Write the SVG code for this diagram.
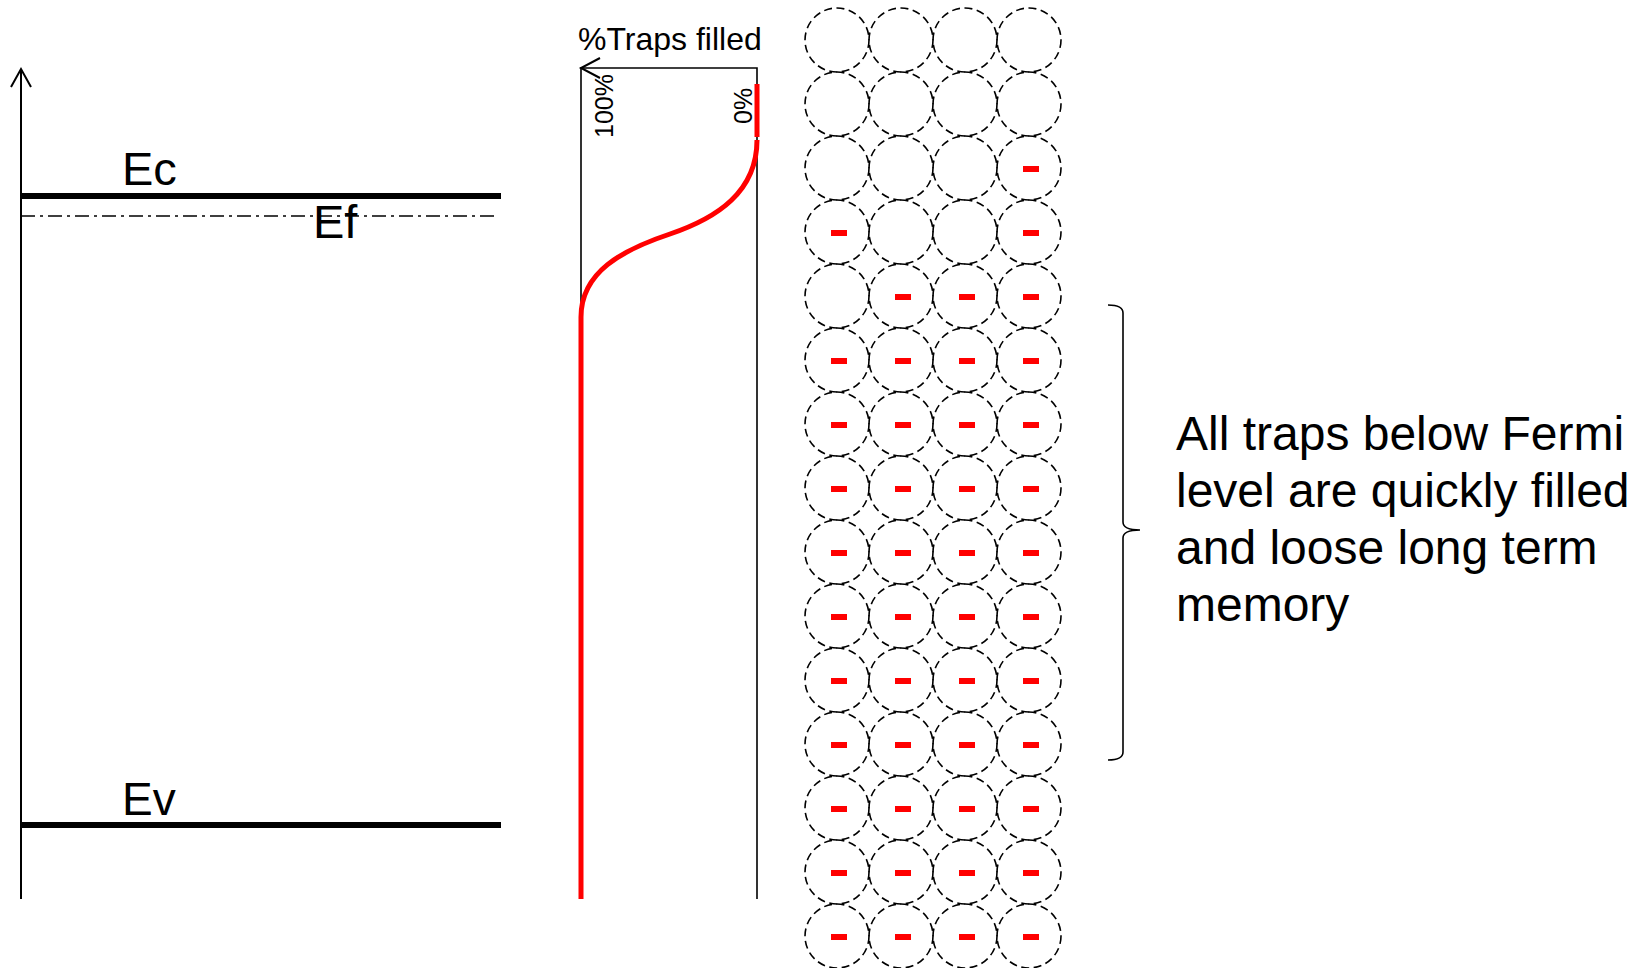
<svg xmlns="http://www.w3.org/2000/svg" xmlns:xlink="http://www.w3.org/1999/xlink" width="1638" height="968" viewBox="0 0 1638 968">
<style>
.t{font-family:"Liberation Sans",Arial,sans-serif;fill:#000}
.ln{stroke:#000;fill:none}
.red{stroke:#f00;fill:none;stroke-width:5}
.trap{fill:none;stroke:#000;stroke-width:1.6;stroke-dasharray:8 4.5}
</style>
<defs>
<circle id="c" r="32" class="trap"/>
<rect id="m" x="-6" y="-2" width="16" height="6" fill="#f00"/>
</defs>
<rect width="1638" height="968" fill="#fff"/>
<g id="band-diagram">
<line class="ln" x1="21" y1="899" x2="21" y2="69" stroke-width="2"/>
<polyline class="ln" points="11,87 21,69 31,87" stroke-width="2"/>
<line class="ln" x1="21" y1="196" x2="501" y2="196" stroke-width="6"/>
<line class="ln" x1="21" y1="216" x2="497" y2="216" stroke-width="1.6" stroke-dasharray="14 5 3 5"/>
<line class="ln" x1="21" y1="825" x2="501" y2="825" stroke-width="6"/>
<text class="t" x="122" y="185" font-size="47">Ec</text>
<text class="t" x="313" y="238" font-size="47">Ef</text>
<text class="t" x="122" y="815" font-size="46">Ev</text>
</g>
<g id="fill-chart">
<polyline class="ln" points="581,899 581,68 757,68 757,899" stroke-width="1.6"/>
<polyline class="ln" points="600,58 581,68 600,78" stroke-width="2"/>
<text class="t" x="578" y="50" font-size="32">%Traps filled</text>
<text class="t" font-size="25" transform="translate(613,138) rotate(-90)">100%</text>
<text class="t" font-size="25" transform="translate(752,124) rotate(-90)">0%</text>
<line class="red" x1="757" y1="84" x2="757" y2="137"/>
<path class="red" d="M757,140 C757,192 717,218 670,234 C622,250 581,272 581,317 V899"/>
</g>
<g id="traps">
<use xlink:href="#c" x="837" y="40"/><use xlink:href="#c" x="901" y="40"/><use xlink:href="#c" x="965" y="40"/><use xlink:href="#c" x="1029" y="40"/>
<use xlink:href="#c" x="837" y="104"/><use xlink:href="#c" x="901" y="104"/><use xlink:href="#c" x="965" y="104"/><use xlink:href="#c" x="1029" y="104"/>
<use xlink:href="#c" x="837" y="168"/><use xlink:href="#c" x="901" y="168"/><use xlink:href="#c" x="965" y="168"/><use xlink:href="#c" x="1029" y="168"/>
<use xlink:href="#c" x="837" y="232"/><use xlink:href="#c" x="901" y="232"/><use xlink:href="#c" x="965" y="232"/><use xlink:href="#c" x="1029" y="232"/>
<use xlink:href="#c" x="837" y="296"/><use xlink:href="#c" x="901" y="296"/><use xlink:href="#c" x="965" y="296"/><use xlink:href="#c" x="1029" y="296"/>
<use xlink:href="#c" x="837" y="360"/><use xlink:href="#c" x="901" y="360"/><use xlink:href="#c" x="965" y="360"/><use xlink:href="#c" x="1029" y="360"/>
<use xlink:href="#c" x="837" y="424"/><use xlink:href="#c" x="901" y="424"/><use xlink:href="#c" x="965" y="424"/><use xlink:href="#c" x="1029" y="424"/>
<use xlink:href="#c" x="837" y="488"/><use xlink:href="#c" x="901" y="488"/><use xlink:href="#c" x="965" y="488"/><use xlink:href="#c" x="1029" y="488"/>
<use xlink:href="#c" x="837" y="552"/><use xlink:href="#c" x="901" y="552"/><use xlink:href="#c" x="965" y="552"/><use xlink:href="#c" x="1029" y="552"/>
<use xlink:href="#c" x="837" y="616"/><use xlink:href="#c" x="901" y="616"/><use xlink:href="#c" x="965" y="616"/><use xlink:href="#c" x="1029" y="616"/>
<use xlink:href="#c" x="837" y="680"/><use xlink:href="#c" x="901" y="680"/><use xlink:href="#c" x="965" y="680"/><use xlink:href="#c" x="1029" y="680"/>
<use xlink:href="#c" x="837" y="744"/><use xlink:href="#c" x="901" y="744"/><use xlink:href="#c" x="965" y="744"/><use xlink:href="#c" x="1029" y="744"/>
<use xlink:href="#c" x="837" y="808"/><use xlink:href="#c" x="901" y="808"/><use xlink:href="#c" x="965" y="808"/><use xlink:href="#c" x="1029" y="808"/>
<use xlink:href="#c" x="837" y="872"/><use xlink:href="#c" x="901" y="872"/><use xlink:href="#c" x="965" y="872"/><use xlink:href="#c" x="1029" y="872"/>
<use xlink:href="#c" x="837" y="936"/><use xlink:href="#c" x="901" y="936"/><use xlink:href="#c" x="965" y="936"/><use xlink:href="#c" x="1029" y="936"/>
</g>
<g id="charges">
<use xlink:href="#m" x="1029" y="168"/>
<use xlink:href="#m" x="837" y="232"/><use xlink:href="#m" x="1029" y="232"/>
<use xlink:href="#m" x="901" y="296"/><use xlink:href="#m" x="965" y="296"/><use xlink:href="#m" x="1029" y="296"/>
<use xlink:href="#m" x="837" y="360"/><use xlink:href="#m" x="901" y="360"/><use xlink:href="#m" x="965" y="360"/><use xlink:href="#m" x="1029" y="360"/>
<use xlink:href="#m" x="837" y="424"/><use xlink:href="#m" x="901" y="424"/><use xlink:href="#m" x="965" y="424"/><use xlink:href="#m" x="1029" y="424"/>
<use xlink:href="#m" x="837" y="488"/><use xlink:href="#m" x="901" y="488"/><use xlink:href="#m" x="965" y="488"/><use xlink:href="#m" x="1029" y="488"/>
<use xlink:href="#m" x="837" y="552"/><use xlink:href="#m" x="901" y="552"/><use xlink:href="#m" x="965" y="552"/><use xlink:href="#m" x="1029" y="552"/>
<use xlink:href="#m" x="837" y="616"/><use xlink:href="#m" x="901" y="616"/><use xlink:href="#m" x="965" y="616"/><use xlink:href="#m" x="1029" y="616"/>
<use xlink:href="#m" x="837" y="680"/><use xlink:href="#m" x="901" y="680"/><use xlink:href="#m" x="965" y="680"/><use xlink:href="#m" x="1029" y="680"/>
<use xlink:href="#m" x="837" y="744"/><use xlink:href="#m" x="901" y="744"/><use xlink:href="#m" x="965" y="744"/><use xlink:href="#m" x="1029" y="744"/>
<use xlink:href="#m" x="837" y="808"/><use xlink:href="#m" x="901" y="808"/><use xlink:href="#m" x="965" y="808"/><use xlink:href="#m" x="1029" y="808"/>
<use xlink:href="#m" x="837" y="872"/><use xlink:href="#m" x="901" y="872"/><use xlink:href="#m" x="965" y="872"/><use xlink:href="#m" x="1029" y="872"/>
<use xlink:href="#m" x="837" y="936"/><use xlink:href="#m" x="901" y="936"/><use xlink:href="#m" x="965" y="936"/><use xlink:href="#m" x="1029" y="936"/>
</g>
<g id="annotation">
<path class="ln" stroke-width="1.6" d="M1108,305 Q1123,305 1123,313 V522 Q1123,530 1140,530 Q1123,530 1123,538 V752 Q1123,760 1108,760"/>
<text class="t" font-size="48"><tspan x="1176" y="450">All traps below Fermi</tspan><tspan x="1176" y="507">level are quickly filled</tspan><tspan x="1176" y="564">and loose long term</tspan><tspan x="1176" y="621">memory</tspan></text>
</g>
</svg>
